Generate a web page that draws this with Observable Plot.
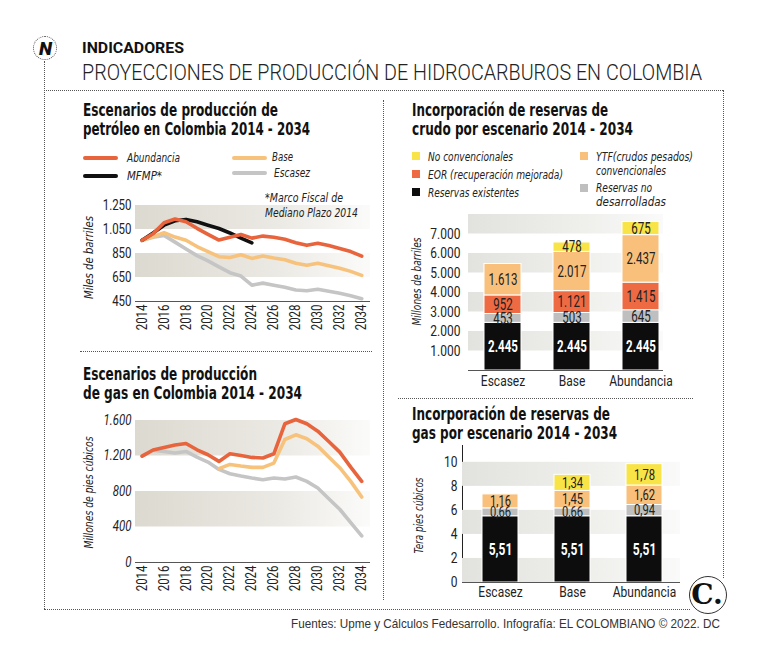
<!DOCTYPE html>
<html><head><meta charset="utf-8">
<script src="https://cdn.jsdelivr.net/npm/d3@7"></script>
<script src="https://cdn.jsdelivr.net/npm/@observablehq/plot@0.6"></script>
<style>
body{margin:0;background:#fff;}
#root{position:relative;width:758px;height:659px;overflow:hidden;background:#fff;}
.t{position:absolute;white-space:nowrap;line-height:1;z-index:5;}
.p{position:absolute;}
.dh{position:absolute;border-top:1.5px dotted #555;height:0;}
.dv{position:absolute;border-left:1.5px dotted #555;width:0;}
</style></head><body><div id="root"></div>
<script>
// ---------- DATA ----------
const years = [2014,2015,2016,2017,2018,2019,2020,2021,2022,2023,2024,2025,2026,2027,2028,2029,2030,2031,2032,2033,2034];
const yearTicks = [2014,2016,2018,2020,2022,2024,2026,2028,2030,2032,2034];

// Oil production (miles de barriles)
const oilAbundancia = [960,1015,1106,1137,1114,1060,1010,962,985,1008,978,995,985,968,940,918,935,916,892,866,828];
const oilBase       = [960,990,1024,987,960,908,866,823,817,840,809,829,812,798,769,752,769,747,727,701,668];
const oilEscasez    = [960,985,1001,945,888,832,789,738,690,662,586,603,586,569,546,540,552,535,518,498,473];
const oilMFMP       = [960,1021,1086,1123,1134,1114,1086,1058,1021,979,939];
const oilTicks = [450,650,850,1050,1250];
const oilBandsLo = [1050,650];
const oilBandsHi = [1250,850];

// Gas production (millones de pies cubicos)
const gasAbundancia = [1199,1268,1297,1323,1341,1270,1214,1139,1225,1206,1184,1177,1225,1563,1611,1563,1480,1364,1244,1075,914];
const gasBase       = [null,null,null,null,null,null,null,1057,1105,1087,1072,1072,1120,1386,1439,1394,1311,1188,1068,914,738];
const gasEscasez    = [1199,1265,1251,1233,1251,1188,1132,1049,1000,974,952,933,952,940,963,914,839,719,600,450,300];
const gasTicks = [0,400,800,1200,1600];
const gasBandsLo = [1200,400];
const gasBandsHi = [1600,800];

// Reserves by scenario
const scenarios = ["Escasez","Base","Abundancia"];
const crudeCats = ["Reservas existentes","Reservas no desarrolladas","EOR (recuperación mejorada)","YTF(crudos pesados) convencionales","No convencionales"];
const crudeExistentes   = [2445,2445,2445];
const crudeNoDesarr     = [453,503,645];
const crudeEOR          = [952,1121,1415];
const crudeYTF          = [1613,2017,2437];
const crudeNoConv       = [0,478,675];
const crudeTicks = [1000,2000,3000,4000,5000,6000,7000];
const crudeBandsLo = [1000,3000,5000,7000];
const crudeBandsHi = [2000,4000,6000,8000];

const gasCats = ["Reservas existentes","Reservas no desarrolladas","YTF(crudos pesados) convencionales","No convencionales"];
const gasExistentes = [5.51,5.51,5.51];
const gasNoDesarr   = [0.66,0.66,0.94];
const gasYTF        = [1.16,1.45,1.62];
const gasNoConv     = [0,1.34,1.78];
const gasBarTicks = [0,2,4,6,8,10];
const gasBarBandsLo = [0,4,8];
const gasBarBandsHi = [2,6,10];

// ---------- STYLE ----------
const C_ABU = "#e8643d", C_BASE = "#f7c27c", C_ESC = "#c5c5c5", C_MFMP = "#111111";
const C_EXIST = "#0d0d0d", C_NODES = "#bfbfbf", C_EOR = "#ee6a43", C_YTF = "#f9c07c", C_NOCONV = "#f8e447";
const SANS = "Roboto, 'Liberation Sans', sans-serif";
const COND = "'DejaVu Sans Condensed', Roboto, sans-serif";
const SVGF = "Roboto, 'Liberation Sans', sans-serif";

const root = document.getElementById('root');

function label(s, o){
  const el = document.createElement('div');
  el.className = 't';
  el.textContent = s;
  el.style.fontFamily = o.family || COND;
  el.style.fontSize = o.size + 'px';
  el.style.fontWeight = o.weight || 400;
  el.style.fontStyle = o.italic ? 'italic' : 'normal';
  el.style.color = o.color || '#111';
  root.appendChild(el);
  const w = el.getBoundingClientRect().width;
  const k = o.w ? o.w / w : 1;
  if (o.rot){
    el.style.left = (o.x - w/2) + 'px';
    el.style.top = (o.y - o.size/2) + 'px';
    el.style.transformOrigin = '50% 50%';
    el.style.transform = `rotate(-90deg) scaleX(${k})`;
  } else {
    const left = o.anchor === 'end' ? o.x - w*k : (o.anchor === 'middle' ? o.x - w*k/2 : o.x);
    el.style.left = left + 'px';
    el.style.top = (o.y - 0.49*o.size) + 'px';
    el.style.transformOrigin = '0 0';
    el.style.transform = `scaleX(${k})`;
  }
  return el;
}
function box(cls, x, y, w, h, extra){
  const el = document.createElement('div');
  el.className = cls;
  el.style.left = x+'px'; el.style.top = y+'px';
  if (w!=null) el.style.width = w+'px';
  if (h!=null) el.style.height = h+'px';
  if (extra) Object.assign(el.style, extra);
  root.appendChild(el);
  return el;
}
function place(svg, x, y){
  const d = document.createElement('div');
  d.className = 'p'; d.style.left = x+'px'; d.style.top = y+'px';
  d.appendChild(svg); root.appendChild(d);
}
function addGradient(svg, id, c0, c1, c2){
  const defs = d3.select(svg).insert("defs", ":first-child");
  const g = defs.append("linearGradient").attr("id", id).attr("x1", 0).attr("x2", 1).attr("y1", 0).attr("y2", 0);
  g.append("stop").attr("offset", 0).attr("stop-color", c0);
  g.append("stop").attr("offset", 0.6).attr("stop-color", c1);
  g.append("stop").attr("offset", 1).attr("stop-color", c2);
}
// narrow the glyphs of SVG texts (condensed look) around their own anchor
function condense(svg, selector, k){
  svg.querySelectorAll(selector).forEach(el => {
    if (!el.textContent) return;
    const b = el.getBBox();
    const a = getComputedStyle(el).textAnchor;
    const ox = a === 'end' ? b.x + b.width : (a === 'middle' ? b.x + b.width/2 : b.x);
    const t = el.getAttribute('transform') || '';
    el.setAttribute('transform', `${t} translate(${ox},0) scale(${k},1) translate(${-ox},0)`);
  });
}
const fmtK = d => d3.format(",")(d).replace(/,/g, ".");
const fmtDec = d => d3.format(".2f")(d).replace(".", ",");
const toRows = (vals, name) => vals.map((v,i) => ({year: years[i], value: v, s: name}));
const bands = (lo, hi) => lo.map((l,i) => ({lo: l, hi: hi[i]}));

// ---------- FRAME / HEADER ----------
box('dh', 44, 90, 679);
box('dv', 44, 61, null, 548);
box('dh', 44, 609, 646);
box('dv', 723, 90, null, 488);
box('dv', 383, 100, null, 500);
box('dh', 80, 351, 292);
box('dh', 398, 398, 295);
box('p', 33, 36, 22, 22, {border:'1.5px dotted #555', borderRadius:'50%', background:'#fff'});
label('N', {x: 45.5, y: 48, size: 19, weight: 900, italic: true, family: SANS, anchor: 'middle', color:'#111'});
label('INDICADORES', {x: 82, y: 48, size: 15, weight: 700, family: SANS, w: 102, color:'#111'});
label('PROYECCIONES DE PRODUCCIÓN DE HIDROCARBUROS EN COLOMBIA', {x: 82, y: 72.5, size: 22, weight: 300, family: SANS, w: 620, color:'#222'});

// C logo
box('p', 689, 576, 36, 36, {border:'1.2px solid #333', borderRadius:'50%', background:'#fff'});
label('C.', {x: 707, y: 595, size: 28, weight: 900, family: "'DejaVu Serif', 'Liberation Serif', serif", anchor: 'middle', color:'#111'});
label('Fuentes: Upme y Cálculos Fedesarrollo. Infografía: EL COLOMBIANO © 2022. DC', {x: 720, y: 623, size: 13, family: "'Liberation Sans', Arimo, sans-serif", anchor: 'end', w: 429, color:'#333'});

// ---------- PANEL TITLES ----------
const TB = {size: 17, weight: 700, color: '#111'};
label('Escenarios de producción de', {...TB, x: 83, y: 110, w: 195});
label('petróleo en Colombia 2014 - 2034', {...TB, x: 83, y: 129, w: 227});
label('Escenarios de producción', {...TB, x: 83, y: 374, w: 174});
label('de gas en Colombia  2014 - 2034', {...TB, x: 83, y: 393, w: 219});
label('Incorporación de reservas de', {...TB, x: 412, y: 110, w: 196});
label('crudo por escenario 2014 - 2034', {...TB, x: 412, y: 129, w: 221});
label('Incorporación de reservas de', {...TB, x: 412, y: 414, w: 198});
label('gas por escenario 2014 - 2034', {...TB, x: 412, y: 433, w: 205});

// ---------- OIL LEGEND ----------
const LG = {size: 12.5, italic: true, color: '#222'};
box('p', 83, 156, 35, 4, {background: C_ABU, borderRadius:'2px'});
label('Abundancia', {...LG, x: 127, y: 158, w: 53});
box('p', 83, 174, 35, 4, {background: C_MFMP, borderRadius:'2px'});
label('MFMP*', {...LG, x: 127, y: 176, w: 35});
box('p', 232, 156, 35, 4, {background: C_BASE, borderRadius:'2px'});
label('Base', {...LG, x: 272, y: 157, w: 21});
box('p', 232, 171, 35, 4, {background: C_ESC, borderRadius:'2px'});
label('Escasez', {...LG, x: 274, y: 173, w: 36});
label('*Marco Fiscal de', {...LG, x: 265, y: 198, w: 78});
label('Mediano Plazo 2014', {...LG, x: 265, y: 213, w: 93});

// ---------- CRUDE LEGEND ----------
box('p', 412, 152, 8, 8, {background: C_NOCONV});
label('No convencionales', {...LG, x: 428, y: 157, w: 85});
box('p', 412, 170, 8, 8, {background: C_EOR});
label('EOR (recuperación mejorada)', {...LG, x: 428, y: 175, w: 135});
box('p', 412, 188, 8, 8, {background: C_EXIST});
label('Reservas existentes', {...LG, x: 428, y: 193, w: 91});
box('p', 580, 152, 8, 8, {background: C_YTF});
label('YTF(crudos pesados)', {...LG, x: 596, y: 157, w: 97});
label('convencionales', {...LG, x: 596, y: 171, w: 70});
box('p', 580, 184, 8, 8, {background: C_NODES});
label('Reservas no', {...LG, x: 596, y: 188, w: 56});
label('desarrolladas', {...LG, x: 596, y: 202, w: 70});

// axis titles
const AX = {size: 13, italic: true, color: '#222', rot: true};
label('Miles de barriles', {...AX, x: 89, y: 257, w: 83});
label('Millones de pies cúbicos', {...AX, x: 89, y: 492, w: 112});
label('Millones de barriles', {...AX, x: 417, y: 281, w: 88});
label('Tera pies cúbicos', {...AX, x: 418, y: 515, w: 76});

// ---------- CHART 1: OIL LINES ----------
const axisStyle = {fontFamily: SVGF, fontSize: '14px', color: '#222', background: 'transparent', overflow: 'visible'};
const xLine = {domain: [2013.4, 2034.8], ticks: yearTicks, tickFormat: d => String(d), tickRotate: -90, tickSize: 0, tickPadding: 3, label: null};
const lineOpts = (c) => ({x: "year", y: "value", stroke: c, strokeWidth: 3.6, strokeLinejoin: "round", strokeLinecap: "round"});

const oil = Plot.plot({
  width: 292, height: 155, marginLeft: 55, marginRight: 2, marginTop: 20, marginBottom: 39,
  style: axisStyle,
  x: xLine,
  y: {domain: [oilTicks[0], oilTicks[oilTicks.length-1]], ticks: oilTicks, tickFormat: fmtK, tickSize: 0, tickPadding: 4, label: null},
  marks: [
    Plot.rect(bands(oilBandsLo, oilBandsHi), {y1: "lo", y2: "hi", fill: "url(#gOil)"}),
    Plot.ruleY([oilTicks[0]], {stroke: "#555", strokeWidth: 1}),
    Plot.line(toRows(oilEscasez, "Escasez"), lineOpts(C_ESC)),
    Plot.line(toRows(oilBase, "Base"), lineOpts(C_BASE)),
    Plot.line(toRows(oilMFMP, "MFMP*"), lineOpts(C_MFMP)),
    Plot.line(toRows(oilAbundancia, "Abundancia"), lineOpts(C_ABU))
  ]
});
addGradient(oil, "gOil", "#dcd9d0", "#ebe9e3", "#fbfbfa");
place(oil, 80, 185);
condense(oil, 'g[aria-label*="axis"] text', 0.82);

// ---------- CHART 2: GAS LINES ----------
const gas = Plot.plot({
  width: 292, height: 200, marginLeft: 55, marginRight: 2, marginTop: 20, marginBottom: 38,
  style: axisStyle,
  x: xLine,
  y: {domain: [gasTicks[0], gasTicks[gasTicks.length-1]], ticks: gasTicks, tickFormat: fmtK, tickSize: 0, tickPadding: 4, label: null},
  marks: [
    Plot.rect(bands(gasBandsLo, gasBandsHi), {y1: "lo", y2: "hi", fill: "url(#gGas)"}),
    Plot.ruleY([gasTicks[0]], {stroke: "#555", strokeWidth: 1}),
    Plot.line(toRows(gasEscasez, "Escasez"), lineOpts(C_ESC)),
    Plot.line(toRows(gasBase, "Base"), {...lineOpts(C_BASE), defined: d => d.value != null}),
    Plot.line(toRows(gasAbundancia, "Abundancia"), lineOpts(C_ABU))
  ]
});
addGradient(gas, "gGas", "#dcd9d0", "#ebe9e3", "#fbfbfa");
d3.select(gas).selectAll('[aria-label="y-axis"] text, [aria-label="y-axis tick label"] text').style('font-style', 'italic');
place(gas, 80, 400);
condense(gas, 'g[aria-label*="axis"] text', 0.82);

// ---------- CHART 3: CRUDE RESERVES ----------
const crudeSeries = [crudeExistentes, crudeNoDesarr, crudeEOR, crudeYTF, crudeNoConv];
const crudeRows = [];
crudeSeries.forEach((vals, j) => vals.forEach((v, i) => { if (v > 0) crudeRows.push({esc: scenarios[i], cat: crudeCats[j], value: v}); }));
const barStyle = {fontFamily: SVGF, fontSize: '15px', color: '#222', background: 'transparent', overflow: 'visible'};
const crude = Plot.plot({
  width: 275, height: 200, marginLeft: 68, marginRight: 12, marginTop: 19, marginBottom: 25,
  style: barStyle,
  x: {domain: scenarios, paddingInner: 0.47, paddingOuter: 0.138, align: 0.78, tickSize: 0, tickPadding: 5, label: null},
  y: {domain: [0, crudeBandsHi[crudeBandsHi.length-1]], ticks: crudeTicks, tickFormat: fmtK, tickSize: 0, tickPadding: 8, label: null},
  color: {domain: crudeCats, range: [C_EXIST, C_NODES, C_EOR, C_YTF, C_NOCONV]},
  marks: [
    Plot.rect(bands(crudeBandsLo, crudeBandsHi), {y1: "lo", y2: "hi", fill: "url(#gBar)"}),
    Plot.barY(crudeRows, {x: "esc", y: "value", fill: "cat", order: crudeCats, stroke: "white", strokeWidth: 1}),
    Plot.ruleY([0], {stroke: "#555", strokeWidth: 1}),
    Plot.text(crudeRows, Plot.stackY({x: "esc", y: "value", z: "cat", order: crudeCats,
      text: d => d.cat === crudeCats[0] ? "" : fmtK(d.value), fill: "#222", fontSize: 16})),
    Plot.text(crudeRows, Plot.stackY({x: "esc", y: "value", z: "cat", order: crudeCats,
      text: d => d.cat === crudeCats[0] ? fmtK(d.value) : "", fill: "white", fontWeight: 700, fontSize: 16}))
  ]
});
addGradient(crude, "gBar", "#e2e2de", "#efefec", "#fafafa");
place(crude, 400, 195);
condense(crude, 'g[aria-label*="axis"] text', 0.8);
condense(crude, 'g[aria-label="text"] text', 0.72);

// ---------- CHART 4: GAS RESERVES ----------
const gasSeries = [gasExistentes, gasNoDesarr, gasYTF, gasNoConv];
const gasRows = [];
gasSeries.forEach((vals, j) => vals.forEach((v, i) => { if (v > 0) gasRows.push({esc: scenarios[i], cat: gasCats[j], value: v}); }));
const gasBar = Plot.plot({
  width: 290, height: 175, marginLeft: 62, marginRight: 10, marginTop: 15, marginBottom: 23,
  style: barStyle,
  x: {domain: scenarios, paddingInner: 0.505, paddingOuter: 0.25, align: 0.52, tickSize: 0, tickPadding: 4, label: null},
  y: {domain: [0, 11.4], ticks: gasBarTicks, tickSize: 0, tickPadding: 5, label: null, line: true},
  color: {domain: gasCats, range: [C_EXIST, C_NODES, C_YTF, C_NOCONV]},
  marks: [
    Plot.rect(bands(gasBarBandsLo, gasBarBandsHi), {y1: "lo", y2: "hi", fill: "url(#gBar2)"}),
    Plot.barY(gasRows, {x: "esc", y: "value", fill: "cat", order: gasCats, stroke: "white", strokeWidth: 1}),
    Plot.ruleY([0], {stroke: "#555", strokeWidth: 1}),
    Plot.text(gasRows, Plot.stackY({x: "esc", y: "value", z: "cat", order: gasCats,
      text: d => d.cat === gasCats[0] ? "" : fmtDec(d.value), fill: "#222", fontSize: 15})),
    Plot.text(gasRows, Plot.stackY({x: "esc", y: "value", z: "cat", order: gasCats,
      text: d => d.cat === gasCats[0] ? fmtDec(d.value) : "", fill: "white", fontWeight: 700, fontSize: 16}))
  ]
});
addGradient(gasBar, "gBar2", "#e2e2de", "#efefec", "#fafafa");
place(gasBar, 400, 430);
condense(gasBar, 'g[aria-label*="axis"] text', 0.8);
condense(gasBar, 'g[aria-label="text"] text', 0.75);
</script></body></html>
